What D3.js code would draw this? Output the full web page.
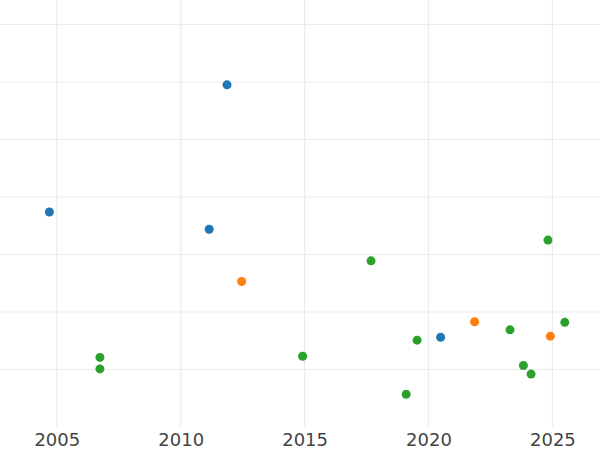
<!DOCTYPE html>
<html>
<head>
<meta charset="utf-8">
<script src="https://cdn.jsdelivr.net/npm/d3@7"></script>
<style>
  html, body { margin: 0; padding: 0; background: #fff; }
  svg { display: block; }
</style>
</head>
<body>
<svg id="chart" width="600" height="450"></svg>
<script>
// Data (year, value)
const blueX = [2011.87, 2004.70, 2011.15, 2020.49];
const blueY = [5.95, 3.74, 3.44, 1.56];
const orangeX = [2012.46, 2021.86, 2024.92];
const orangeY = [2.53, 1.83, 1.58];
const greenX = [2006.74, 2006.74, 2014.92, 2017.68, 2019.54, 2019.10, 2023.29, 2024.82, 2025.50, 2023.83, 2024.14];
const greenY = [1.21, 1.01, 1.23, 2.89, 1.51, 0.57, 1.69, 3.25, 1.82, 1.07, 0.92];
const xTicks = [2005, 2010, 2015, 2020, 2025];
const yGrid = [1, 2, 3, 4, 5, 6, 7];

const seriesNames = ["blue", "orange", "green"];
const seriesColors = ["#1f77b4", "#ff7f0e", "#2ca02c"];
const seriesX = [blueX, orangeX, greenX];
const seriesY = [blueY, orangeY, greenY];

const W = 600, H = 450;
const plot = { left: 0, right: 600, top: 0, bottom: 427 };

const x = d3.scaleLinear().domain([2002.708, 2026.921]).range([plot.left, plot.right]);
const y = d3.scaleLinear().domain([0, 7.426]).range([plot.bottom, plot.top]);

const svg = d3.select("#chart");

// grid
const g = svg.append("g");
g.selectAll("line.hg").data(yGrid).enter().append("line")
  .attr("x1", plot.left).attr("x2", plot.right)
  .attr("y1", d => y(d)).attr("y2", d => y(d))
  .attr("stroke", "#ebebeb").attr("stroke-width", 1.2);
g.selectAll("line.vg").data(xTicks).enter().append("line")
  .attr("x1", d => x(d)).attr("x2", d => x(d))
  .attr("y1", plot.top).attr("y2", plot.bottom)
  .attr("stroke", "#ebebeb").attr("stroke-width", 1.2);

// x axis labels
const xAxis = d3.axisBottom(x).tickValues(xTicks).tickFormat(d3.format("d")).tickSize(0).tickPadding(6);
const ax = svg.append("g").attr("transform", `translate(0,${plot.bottom})`).call(xAxis);
ax.select(".domain").remove();
ax.selectAll("text")
  .attr("fill", "#444")
  .style("font-family", "DejaVu Sans, sans-serif")
  .style("font-size", "18px");

// points
seriesNames.forEach((name, i) => {
  const pts = seriesX[i].map((xv, j) => ({ x: xv, y: seriesY[i][j] }));
  svg.append("g").selectAll("circle").data(pts).enter().append("circle")
    .attr("cx", d => x(d.x)).attr("cy", d => y(d.y))
    .attr("r", 4.5)
    .attr("fill", seriesColors[i]);
});
</script>
</body>
</html>
